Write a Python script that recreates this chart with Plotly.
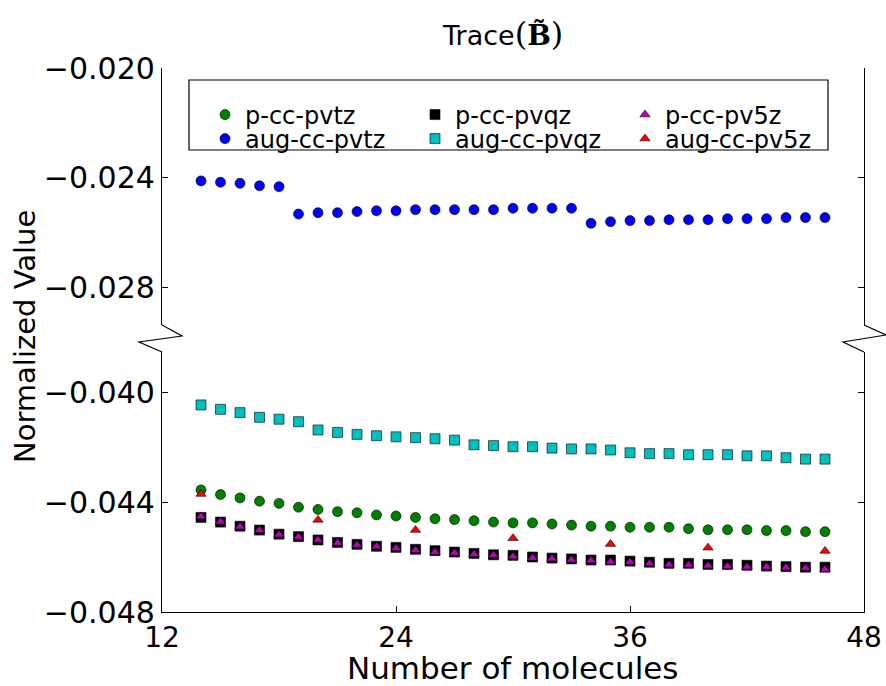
import plotly.graph_objects as go

# ---------------- data ----------------
molecules = list(range(14, 47))

p_cc_pvtz = [-0.04356, -0.04373, -0.04385, -0.04397, -0.04405, -0.04419, -0.04427, -0.04435,
             -0.04439, -0.04447, -0.04451, -0.04456, -0.04461, -0.04464, -0.04468, -0.04473,
             -0.04476, -0.04476, -0.04480, -0.04484, -0.04488, -0.04488, -0.04492, -0.04492,
             -0.04492, -0.04497, -0.04501, -0.04501, -0.04501, -0.04504, -0.04504, -0.04508,
             -0.04508]

aug_cc_pvtz = [-0.02412, -0.02417, -0.02421, -0.02430, -0.02433,
               -0.02533, -0.02528, -0.02528, -0.02524, -0.02521, -0.02521, -0.02517, -0.02517,
               -0.02517, -0.02517, -0.02517, -0.02512, -0.02512, -0.02512, -0.02512,
               -0.02567, -0.02561, -0.02557, -0.02557, -0.02554, -0.02554, -0.02554, -0.02550,
               -0.02550, -0.02550, -0.02546, -0.02546, -0.02546]

p_cc_pvqz = [-0.04456, -0.04473, -0.04488, -0.04502, -0.04517, -0.04526, -0.04538, -0.04547,
             -0.04554, -0.04561, -0.04565, -0.04572, -0.04577, -0.04582, -0.04587, -0.04592,
             -0.04594, -0.04600, -0.04604, -0.04607, -0.04611, -0.04611, -0.04615, -0.04619,
             -0.04623, -0.04623, -0.04627, -0.04627, -0.04630, -0.04633, -0.04635, -0.04637,
             -0.04637]

aug_cc_pvqz = [-0.04047, -0.04063, -0.04075, -0.04092, -0.04099, -0.04108, -0.04138, -0.04147,
               -0.04154, -0.04159, -0.04163, -0.04166, -0.04170, -0.04175, -0.04192, -0.04195,
               -0.04199, -0.04199, -0.04204, -0.04207, -0.04207, -0.04211, -0.04221, -0.04224,
               -0.04224, -0.04228, -0.04228, -0.04228, -0.04232, -0.04232, -0.04239, -0.04244,
               -0.04244]

p_cc_pv5z = [-0.04453, -0.04472, -0.04490, -0.04503, -0.04519, -0.04527, -0.04538, -0.04549,
             -0.04556, -0.04562, -0.04568, -0.04575, -0.04582, -0.04585, -0.04590, -0.04594,
             -0.04598, -0.04604, -0.04606, -0.04610, -0.04613, -0.04618, -0.04618, -0.04624,
             -0.04628, -0.04629, -0.04632, -0.04634, -0.04636, -0.04636, -0.04639, -0.04640,
             -0.04645]

aug_5z_molecules = [14, 20, 25, 30, 35, 40, 46]
aug_cc_pv5z = [-0.04371, -0.04465, -0.04502, -0.04532, -0.04553, -0.04566, -0.04578]

x_ticks = [12, 24, 36, 48]
top_ticks = [-0.028, -0.024, -0.020]
bottom_ticks = [-0.048, -0.044, -0.040]
top_range = [-0.02938, -0.020]
bottom_range = [-0.048, -0.038545]

# ---------------- layout geometry (pixels) ----------------
W, H = 886, 686
L, R, T, B = 162, 864, 68, 612


def pxx(x):
    return (x - L) / (R - L)


def pxy(y):
    return (B - y) / (B - T)


FONT = "DejaVu Sans"
EDGE = dict(color="black", width=0.6)

fig = go.Figure()


def add(name, xs, ys, color, symbol, size, axis, legend):
    fig.add_trace(go.Scatter(
        x=xs, y=ys, name=name, mode="markers",
        xaxis="x", yaxis=axis, legend=legend,
        marker=dict(color=color, symbol=symbol, size=size, line=EDGE),
    ))


add("p-cc-pvtz", molecules, p_cc_pvtz, "#008000", "circle", 10, "y", "legend")
add("p-cc-pvqz", molecules, p_cc_pvqz, "#000000", "square", 10, "y", "legend")
add("p-cc-pv5z", molecules, p_cc_pv5z, "#bf00bf", "triangle-up", 9, "y", "legend")
add("aug-cc-pvtz", molecules, aug_cc_pvtz, "#0000ff", "circle", 10, "y2", "legend2")
add("aug-cc-pvqz", molecules, aug_cc_pvqz, "#00bfbf", "square", 10, "y", "legend2")
add("aug-cc-pv5z", aug_5z_molecules, aug_cc_pv5z, "#ff0000", "triangle-up", 9, "y", "legend2")

axis_common = dict(showline=True, linecolor="black", linewidth=1.2,
                   ticks="inside", ticklen=6, tickwidth=1, tickcolor="black",
                   showgrid=False, zeroline=False, automargin=False)

legend_common = dict(orientation="h", xanchor="left", yanchor="middle",
                     bgcolor="rgba(0,0,0,0)", borderwidth=0,
                     font=dict(family=FONT, size=24, color="black"),
                     entrywidth=165, traceorder="normal")

fig.update_layout(
    width=W, height=H,
    margin=dict(l=L, r=W - R, t=T, b=H - B, autoexpand=False),
    paper_bgcolor="white", plot_bgcolor="white",
    showlegend=True,
    xaxis=dict(range=[12, 48], tickvals=x_ticks, anchor="y", mirror=False,
               tickfont=dict(family=FONT, size=28, color="black"), **axis_common),
    xaxis2=dict(range=[12, 48], tickvals=x_ticks, anchor="y2", side="top", matches="x",
                overlaying="x", showticklabels=False, **axis_common),
    yaxis=dict(range=bottom_range, tickvals=bottom_ticks, tickformat=".3f",
               domain=[0, pxy(352)], anchor="x", mirror="ticks",
               tickfont=dict(family=FONT, size=30, color="black"), **axis_common),
    yaxis2=dict(range=top_range, tickvals=top_ticks, tickformat=".3f",
                domain=[pxy(325), 1], anchor="x", mirror="ticks",
                tickfont=dict(family=FONT, size=30, color="black"), **axis_common),
    legend=dict(x=pxx(205), y=pxy(115), **legend_common),
    legend2=dict(x=pxx(205), y=pxy(139), **legend_common),
)

# legend frame
fig.add_shape(type="rect", xref="paper", yref="paper",
              x0=pxx(189), x1=pxx(828), y0=pxy(150), y1=pxy(80),
              line=dict(color="black", width=1.2), fillcolor="white", layer="below")


# broken-axis zigzags
def zig(points):
    d = "M " + " L ".join(f"{pxx(a):.5f},{pxy(b):.5f}" for a, b in points)
    return dict(type="path", path=d, xref="paper", yref="paper",
                line=dict(color="black", width=1.2))


fig.add_shape(zig([(162, 325), (182, 336), (139, 342), (162, 352)]))
fig.add_shape(zig([(864, 325), (886, 335), (843, 342), (864, 352)]))

# titles
fig.add_annotation(x=pxx(502), y=pxy(34), xref="paper", yref="paper", showarrow=False,
                   xanchor="center", yanchor="middle",
                   text=("Trace<span style='font-family:DejaVu Serif;font-size:32px'>(</span>"
                         "<span style='font-family:DejaVu Serif;font-size:28px'><b>B\u0303</b></span>"
                         "<span style='font-family:DejaVu Serif;font-size:32px'>)</span>"),
                   font=dict(family=FONT, size=27, color="black"))
fig.add_annotation(x=pxx(513), y=pxy(668), xref="paper", yref="paper", showarrow=False,
                   xanchor="center", yanchor="middle", text="Number of molecules",
                   font=dict(family=FONT, size=31, color="black"))
fig.add_annotation(x=pxx(25), y=pxy(337), xref="paper", yref="paper", showarrow=False,
                   xanchor="center", yanchor="middle", text="Normalized Value", textangle=-90,
                   font=dict(family=FONT, size=29, color="black"))

fig.write_html("out.html")
